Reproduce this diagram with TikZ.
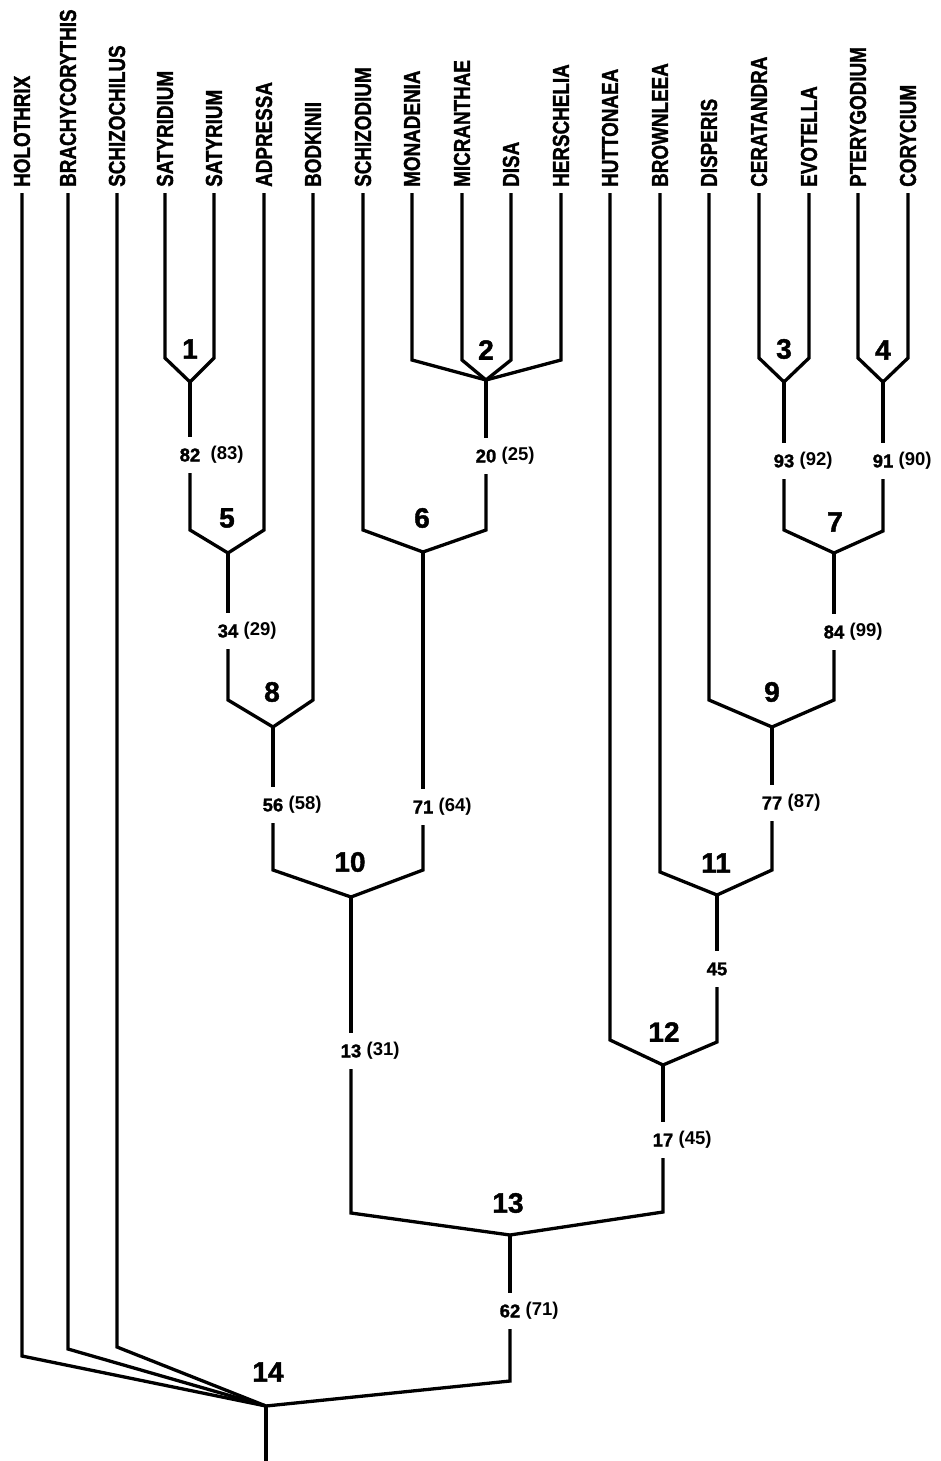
\documentclass[tikz,border=0pt]{standalone}
\usepackage{fontspec}
\usepackage{graphicx}
\setmainfont{Liberation Sans}
\newfontfamily\heavyff[FakeBold=1.5]{Liberation Sans Bold}
\newcommand\leaffont{\fontsize{23}{23}\selectfont\heavyff}
\newcommand\cladefont{\fontsize{28}{28}\selectfont\heavyff}
\newcommand\bsfont{\fontsize{18.5}{18.5}\selectfont\heavyff}
\newcommand\bsparfont{\fontsize{18.5}{18.5}\selectfont\bfseries}
\begin{document}
\begin{tikzpicture}[x=1pt,y=-1pt,
  leaf/.style={rotate=90,anchor=west,inner sep=0pt,font=\leaffont},
  clade/.style={inner sep=0pt,font=\cladefont},
  bs/.style={inner sep=0pt,minimum height=36pt,font=\bsfont},
  par/.style={label={[font=\bsparfont,inner sep=0pt,label distance=5pt]right:#1}},
  parw/.style={label={[font=\bsparfont,inner sep=0pt,label distance=10pt]right:#1}},
  tree/.style={line width=3.3pt,line join=miter}]
\useasboundingbox (0,0) rectangle (941,1461);
% leaves
\foreach \n/\x/\t in {holothrix/22/HOLOTHRIX, brachycorythis/68/BRACHYCORYTHIS,
  schizochilus/117/SCHIZOCHILUS, satyridium/165/SATYRIDIUM, satyrium/214/SATYRIUM,
  adpressa/264/ADPRESSA, bodkinii/313/BODKINII, schizodium/363/SCHIZODIUM,
  monadenia/412/MONADENIA, micranthae/462/MICRANTHAE, disa/511/DISA,
  herschelia/561/HERSCHELIA, huttonaea/610/HUTTONAEA, brownleea/660/BROWNLEEA,
  disperis/709/DISPERIS, ceratandra/759/CERATANDRA, evotella/809/EVOTELLA,
  pterygodium/858/PTERYGODIUM, corycium/908/CORYCIUM}
{
  \node[leaf] (\n) at (\x,187) {\scalebox{0.82}[1]{\t}};
  \coordinate (\n-t) at (\x,193);
}
% vertices
\coordinate (n1) at (190,382);
\coordinate (n2) at (486,380);
\coordinate (n3) at (784,382);
\coordinate (n4) at (883,382);
\coordinate (n5) at (228,553);
\coordinate (n6) at (423,552);
\coordinate (n7) at (834,553);
\coordinate (n8) at (273,727);
\coordinate (n9) at (772,727);
\coordinate (n10) at (351,897);
\coordinate (n11) at (717,895);
\coordinate (n12) at (663,1065);
\coordinate (n13) at (510,1235);
\coordinate (n14) at (266,1406);
\coordinate (root) at (266,1461);
% bends of leaves
\coordinate (satyridium-b) at (165,358);
\coordinate (satyrium-b) at (214,358);
\coordinate (monadenia-b) at (412,360);
\coordinate (micranthae-b) at (462,360);
\coordinate (disa-b) at (511,360);
\coordinate (herschelia-b) at (561,360);
\coordinate (ceratandra-b) at (759,358);
\coordinate (evotella-b) at (809,358);
\coordinate (pterygodium-b) at (858,358);
\coordinate (corycium-b) at (908,358);
\coordinate (adpressa-b) at (264,530);
\coordinate (schizodium-b) at (363,530);
\coordinate (bodkinii-b) at (313,700);
\coordinate (disperis-b) at (709,700);
\coordinate (brownleea-b) at (660,872);
\coordinate (huttonaea-b) at (610,1040);
\coordinate (holothrix-b) at (22,1356);
\coordinate (brachycorythis-b) at (68,1349);
\coordinate (schizochilus-b) at (117,1347);
% bends of clade stems
\coordinate (c1) at (190,530);
\coordinate (c2) at (486,530);
\coordinate (c3) at (784,530);
\coordinate (c4) at (883,531);
\coordinate (c5) at (228,700);
\coordinate (c7) at (834,700);
\coordinate (c8) at (273,870);
\coordinate (c6) at (423,870);
\coordinate (c9) at (772,870);
\coordinate (c11) at (717,1042);
\coordinate (c10) at (351,1213);
\coordinate (c12) at (663,1212);
\coordinate (c13) at (510,1381);
% support values
\node[bs,parw=(83)] (s1) at (190,455) {82};
\node[bs,par=(25)] (s2) at (486,456) {20};
\node[bs,par=(92)] (s3) at (784,461) {93};
\node[bs,par=(90)] (s4) at (883,461) {91};
\node[bs,par=(29)] (s5) at (228,631) {34};
\node[bs,par=(64)] (s6) at (423,807) {71};
\node[bs,par=(99)] (s7) at (834,632) {84};
\node[bs,par=(58)] (s8) at (273,805) {56};
\node[bs,par=(87)] (s9) at (772,803) {77};
\node[bs,par=(31)] (s10) at (351,1051) {13};
\node[bs] (s11) at (717,969) {45};
\node[bs,par=(45)] (s12) at (663,1140) {17};
\node[bs,par=(71)] (s13) at (510,1311) {62};
% clade numbers
\node[clade] (l1) at (190,349) {1};
\node[clade] (l2) at (486,350) {2};
\node[clade] (l3) at (784,349) {3};
\node[clade] (l4) at (883,350) {4};
\node[clade] (l5) at (227,518) {5};
\node[clade] (l6) at (422,518) {6};
\node[clade] (l7) at (835,522) {7};
\node[clade] (l8) at (272,692) {8};
\node[clade] (l9) at (772,692) {9};
\node[clade] (l10) at (350,862) {10};
\node[clade] (l11) at (716,863) {11};
\node[clade] (l12) at (664,1032) {12};
\node[clade] (l13) at (508,1203) {13};
\node[clade] (l14) at (268,1372) {14};
% clade 1
\draw[tree] (satyridium-t) -- (satyridium-b) -- (n1) -- (satyrium-b) -- (satyrium-t);
\draw[tree] (n1) -- (s1.north);
% clade 2
\draw[tree] (monadenia-t) -- (monadenia-b) -- (n2) -- (herschelia-b) -- (herschelia-t);
\draw[tree] (micranthae-t) -- (micranthae-b) -- (n2) -- (disa-b) -- (disa-t);
\draw[tree] (n2) -- (s2.north);
% clade 3, 4
\draw[tree] (ceratandra-t) -- (ceratandra-b) -- (n3) -- (evotella-b) -- (evotella-t);
\draw[tree] (n3) -- (s3.north);
\draw[tree] (pterygodium-t) -- (pterygodium-b) -- (n4) -- (corycium-b) -- (corycium-t);
\draw[tree] (n4) -- (s4.north);
% clade 5
\draw[tree] (s1.south) -- (c1) -- (n5) -- (adpressa-b) -- (adpressa-t);
\draw[tree] (n5) -- (s5.north);
% clade 6
\draw[tree] (schizodium-t) -- (schizodium-b) -- (n6) -- (c2) -- (s2.south);
\draw[tree] (n6) -- (s6.north);
% clade 7
\draw[tree] (s3.south) -- (c3) -- (n7) -- (c4) -- (s4.south);
\draw[tree] (n7) -- (s7.north);
% clade 8
\draw[tree] (s5.south) -- (c5) -- (n8) -- (bodkinii-b) -- (bodkinii-t);
\draw[tree] (n8) -- (s8.north);
% clade 9
\draw[tree] (disperis-t) -- (disperis-b) -- (n9) -- (c7) -- (s7.south);
\draw[tree] (n9) -- (s9.north);
% clade 10
\draw[tree] (s8.south) -- (c8) -- (n10) -- (c6) -- (s6.south);
\draw[tree] (n10) -- (s10.north);
% clade 11
\draw[tree] (brownleea-t) -- (brownleea-b) -- (n11) -- (c9) -- (s9.south);
\draw[tree] (n11) -- (s11.north);
% clade 12
\draw[tree] (huttonaea-t) -- (huttonaea-b) -- (n12) -- (c11) -- (s11.south);
\draw[tree] (n12) -- (s12.north);
% clade 13
\draw[tree] (s10.south) -- (c10) -- (n13) -- (c12) -- (s12.south);
\draw[tree] (n13) -- (s13.north);
% clade 14
\draw[tree] (holothrix-t) -- (holothrix-b) -- (n14) -- (c13) -- (s13.south);
\draw[tree] (brachycorythis-t) -- (brachycorythis-b) -- (n14);
\draw[tree] (schizochilus-t) -- (schizochilus-b) -- (n14);
\draw[tree] (n14) -- (root);
\end{tikzpicture}
\end{document}
